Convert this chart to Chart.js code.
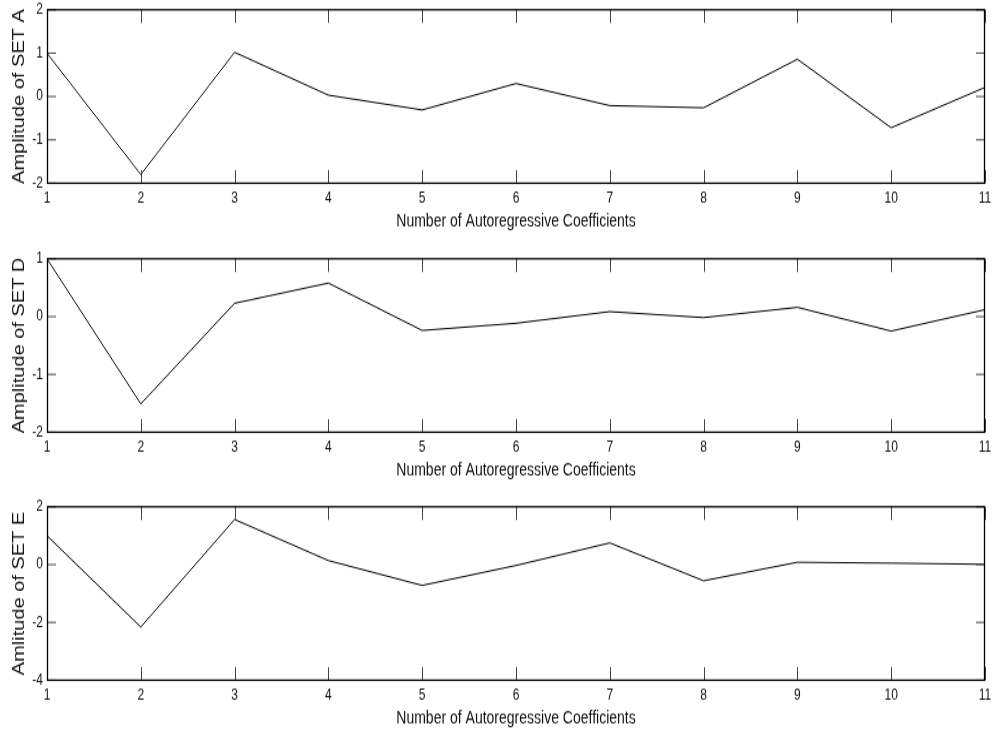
<!DOCTYPE html>
<html>
<head>
<meta charset="utf-8">
<title>Autoregressive coefficients</title>
<script src="https://cdn.jsdelivr.net/npm/chart.js@4.4.1/dist/chart.umd.min.js"></script>
<style>
  html, body { margin: 0; padding: 0; background: #fff; overflow: hidden; }
  #wrap { position: relative; width: 998px; height: 733px; }
  canvas { position: absolute; left: 0; }
</style>
</head>
<body>
<div id="wrap">
  <canvas id="setA" width="998" height="199"></canvas>
  <canvas id="setD" width="998" height="199"></canvas>
  <canvas id="setE" width="998" height="199"></canvas>
</div>
<script>
const coefficients = [1, 2, 3, 4, 5, 6, 7, 8, 9, 10, 11];

const setA = [1.0, -1.8, 1.02, 0.03, -0.31, 0.3, -0.21, -0.26, 0.86, -0.72, 0.21];
const setD = [1.0, -1.51, 0.23, 0.58, -0.24, -0.115, 0.086, -0.017, 0.16, -0.25, 0.12];
const setE = [1.0, -2.16, 1.56, 0.14, -0.72, -0.03, 0.75, -0.56, 0.08, 0.05, 0.01];

const xTicks = [1, 2, 3, 4, 5, 6, 7, 8, 9, 10, 11];
const yTicksA = [-2, -1, 0, 1, 2];
const yTicksD = [-2, -1, 0, 1];
const yTicksE = [-4, -2, 0, 2];

const FONT = "'Liberation Sans', Arial, Helvetica, sans-serif";

// box around the plot area plus short inward tick marks on every side
const frame = {
  id: 'frame',
  afterDatasetsDraw(chart) {
    const { ctx, chartArea: a, scales: { x, y } } = chart;
    ctx.save();
    ctx.lineWidth = 1;
    ctx.strokeStyle = '#444';
    ctx.beginPath();
    x.ticks.forEach(t => {
      const px = Math.round(x.getPixelForValue(t.value)) + 0.5;
      ctx.moveTo(px, a.top); ctx.lineTo(px, a.top + 10.5);
      ctx.moveTo(px, a.bottom); ctx.lineTo(px, a.bottom - 10.5);
    });
    y.ticks.forEach(t => {
      const py = y.getPixelForValue(t.value);
      ctx.moveTo(a.left, py); ctx.lineTo(a.left + 9, py);
      ctx.moveTo(a.right, py); ctx.lineTo(a.right - 9, py);
    });
    ctx.stroke();
    ctx.strokeStyle = '#000';
    ctx.lineWidth = 1.3;
    ctx.strokeRect(a.left + 0.5, a.top, a.right - a.left - 1, a.bottom - a.top);
    ctx.restore();
  }
};

function makePlot(id, top, values, yTicks, yLabel) {
  const canvas = document.getElementById(id);
  // drawn on a shorter canvas and stretched vertically, like the original figure
  canvas.style.top = top + 'px';
  canvas.style.width = '998px';
  canvas.style.height = '249px';

  new Chart(canvas, {
    type: 'line',
    data: {
      labels: coefficients,
      datasets: [{
        data: coefficients.map((c, i) => ({ x: c, y: values[i] })),
        borderColor: '#000',
        borderWidth: 1,
        pointRadius: 0,
        tension: 0,
        fill: false
      }]
    },
    options: {
      responsive: false,
      devicePixelRatio: 1,
      animation: false,
      layout: { padding: { top: 7.8, right: 13, bottom: 12.6, left: 0 } },
      plugins: { legend: { display: false }, tooltip: { enabled: false } },
      scales: {
        x: {
          type: 'linear',
          min: xTicks[0],
          max: xTicks[xTicks.length - 1],
          afterBuildTicks: s => { s.ticks = xTicks.map(v => ({ value: v })); },
          afterFit: s => { s.height = 40; s.paddingLeft = 0; s.paddingRight = 0; },
          grid: { display: false, drawTicks: false },
          border: { display: false },
          ticks: { padding: 4.8, color: '#111', font: { family: FONT, size: 12 } },
          title: {
            display: true,
            text: 'Number of Autoregressive Coefficients',
            color: '#111',
            font: { family: FONT, size: 14 },
            padding: { top: 0, bottom: 1 }
          }
        },
        y: {
          min: yTicks[0],
          max: yTicks[yTicks.length - 1],
          afterBuildTicks: s => { s.ticks = yTicks.map(v => ({ value: v })); },
          afterFit: s => { s.width = 47; s.paddingTop = 0; s.paddingBottom = 0; },
          grid: { display: false, drawTicks: false },
          border: { display: false },
          ticks: { padding: 4, color: '#111', font: { family: FONT, size: 12 } },
          title: {
            display: true,
            text: yLabel,
            color: '#111',
            font: { family: FONT, size: 16 },
            padding: { top: 10, bottom: 0 }
          }
        }
      }
    },
    plugins: [frame]
  });
}

makePlot('setA', 0, setA, yTicksA, 'Amplitude of SET A');
makePlot('setD', 249, setD, yTicksD, 'Amplitude of SET D');
makePlot('setE', 497, setE, yTicksE, 'Amlitude of SET E');
</script>
</body>
</html>
